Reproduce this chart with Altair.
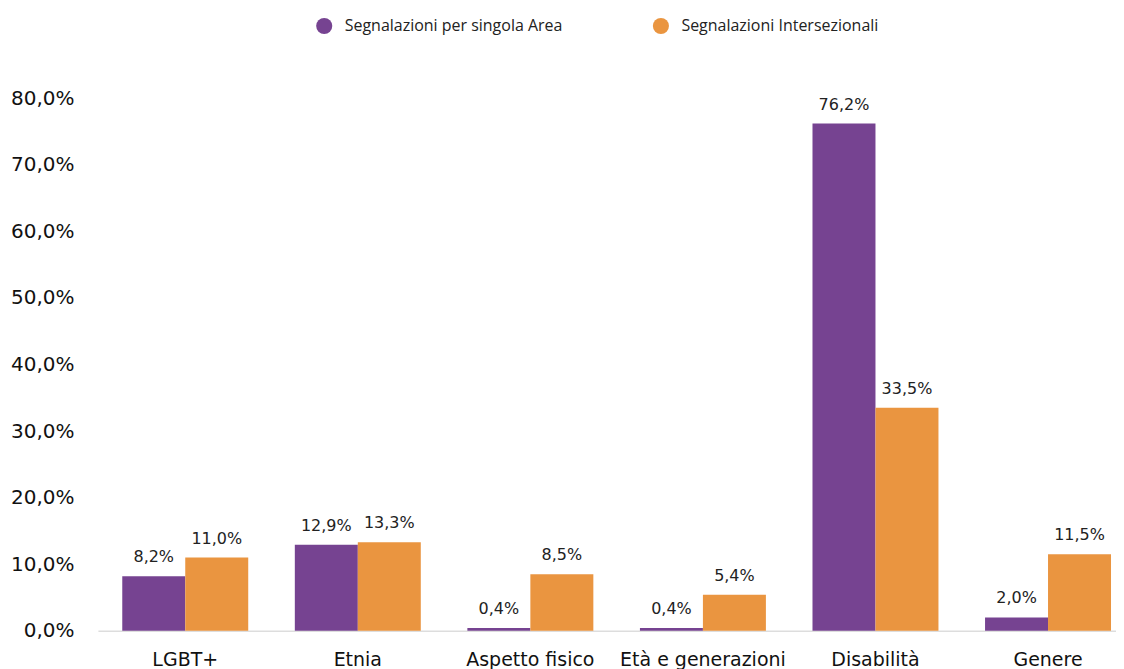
import altair as alt
import pandas as pd

categories = ["LGBT+", "Etnia", "Aspetto fisico", "Età e generazioni", "Disabilità", "Genere"]
series = ["Segnalazioni per singola Area", "Segnalazioni Intersezionali"]
singola = [8.2, 12.9, 0.4, 0.4, 76.2, 2.0]
intersez = [11.0, 13.3, 8.5, 5.4, 33.5, 11.5]
colors = ["#764391", "#EA9540"]

rows = []
for c, a, b in zip(categories, singola, intersez):
    rows.append({"cat": c, "serie": series[0], "val": a})
    rows.append({"cat": c, "serie": series[1], "val": b})
df = pd.DataFrame(rows)

x = alt.X("cat:N", sort=categories, title=None,
          scale=alt.Scale(paddingInner=0.27, paddingOuter=0.085, align=0.83),
          axis=alt.Axis(labelAngle=0, labelFont="DejaVu Sans", labelFontSize=19,
                        labelColor="#111111", labelPadding=20, ticks=False,
                        domainColor="#dddddd", domainWidth=1.5))
y = alt.Y("val:Q", title=None,
          scale=alt.Scale(domain=[0, 80]),
          axis=alt.Axis(values=[0, 10, 20, 30, 40, 50, 60, 70, 80], grid=False,
                        domain=False, ticks=False, labelFont="DejaVu Sans",
                        labelFontSize=20, labelColor="#111111", labelPadding=24,
                        labelExpr="replace(format(datum.value, '.1f'), '.', ',') + '%'"))
xo = alt.XOffset("serie:N", sort=series)

base = alt.Chart(df).encode(x=x, xOffset=xo)

bars = base.mark_bar().encode(
    y=y,
    color=alt.Color("serie:N", sort=series,
                    scale=alt.Scale(domain=series, range=colors),
                    legend=alt.Legend(title=None, orient="none", direction="horizontal",
                                      legendX=218, legendY=-81, symbolType="circle",
                                      symbolSize=260, symbolStrokeWidth=0,
                                      labelFont="Open Sans", labelFontSize=16,
                                      labelColor="#222222", labelLimit=400,
                                      columnPadding=89, labelOffset=12)),
)

labels = base.mark_text(baseline="bottom", dy=-11, font="DejaVu Sans", fontSize=16,
                        color="#222222").encode(
    y="val:Q",
    text=alt.Text("lbl:N"),
).transform_calculate(lbl="replace(format(datum.val, '.1f'), '.', ',') + '%'")

chart = alt.layer(bars, labels).properties(
    width=1019, height=533,
    padding={"top": 9, "left": 2, "right": 0, "bottom": 0},
).configure_view(stroke=None)

chart.save("out.html", embed_options={"renderer": "svg", "actions": False})
